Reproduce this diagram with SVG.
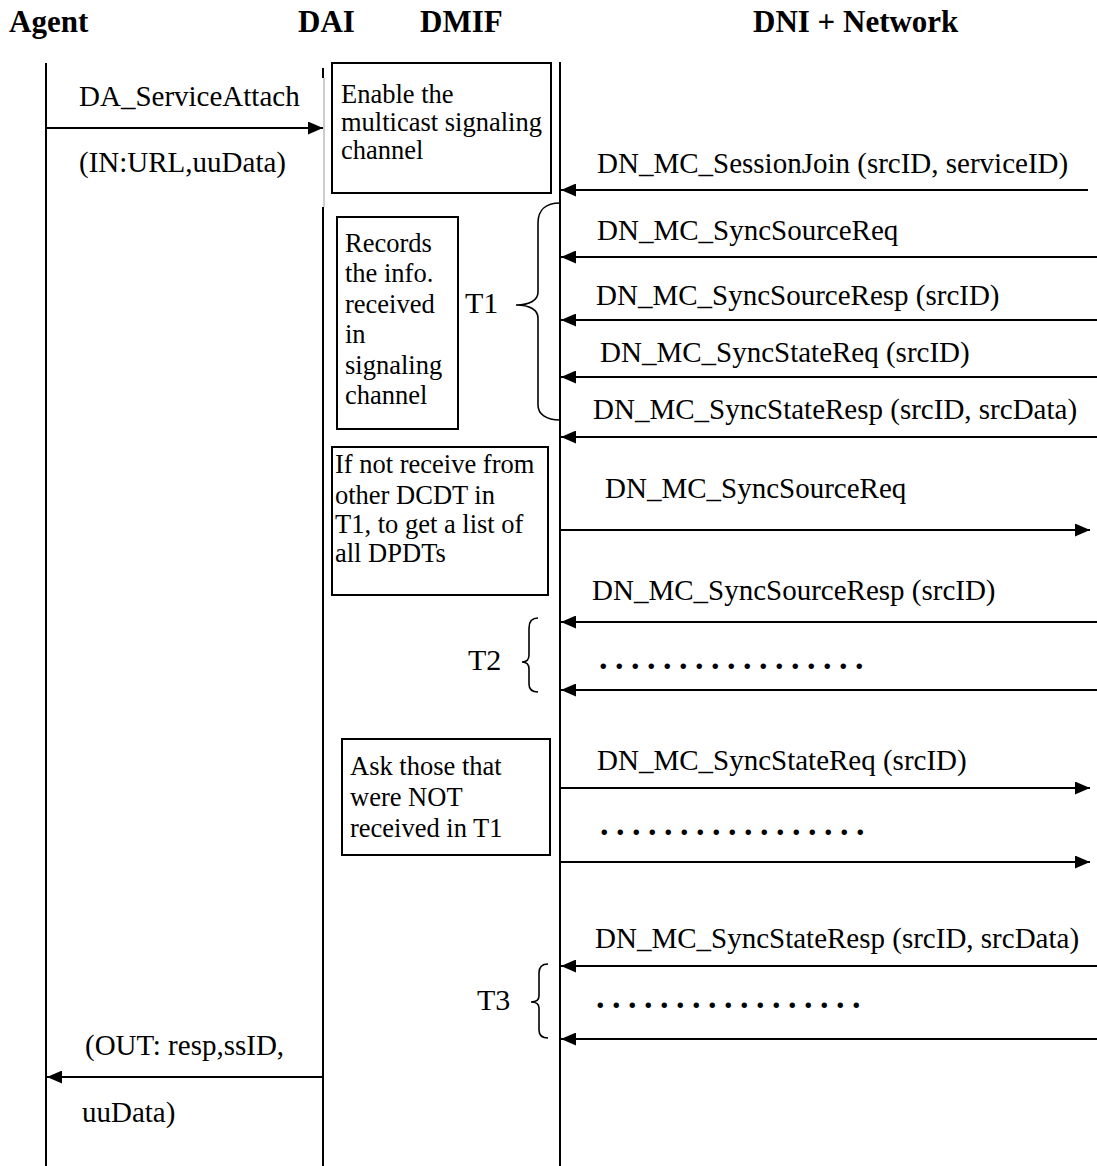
<svg xmlns="http://www.w3.org/2000/svg" width="1097" height="1166" viewBox="0 0 1097 1166">
  <style>
    text { font-family: "Liberation Serif", "Times New Roman", serif; fill: #000; }
    .title { font-size: 31px; font-weight: bold; }
    .lbl { font-size: 29px; }
    .box { font-size: 26.5px; }
    .tm { font-size: 30px; }
    .dots { font-size: 34px; font-weight: bold; letter-spacing: 7.5px; }
    .life { stroke: #000; stroke-width: 2; fill: none; }
    .note { stroke: #000; stroke-width: 2; fill: #fff; }
    .msg { stroke: #000; stroke-width: 2; fill: none; marker-end: url(#arrow); }
    .brace { stroke: #000; stroke-width: 1.6; fill: none; }
  </style>
  <defs>
    <marker id="arrow" markerUnits="userSpaceOnUse" markerWidth="16" markerHeight="13" refX="15" refY="6.5" orient="auto">
      <path d="M0,0 L15,6.5 L0,13 z" fill="#000"/>
    </marker>
  </defs>
  <rect width="1097" height="1166" fill="#fff"/>

  <!-- column headings and lifelines -->
  <g id="agent">
    <text class="title" x="9" y="32">Agent</text>
    <line class="life" x1="46" y1="63" x2="46" y2="1166"/>
  </g>
  <g id="dai">
    <text class="title" x="298" y="32">DAI</text>
    <line class="life" x1="323" y1="68" x2="323" y2="78"/>
    <line x1="324" y1="78" x2="324" y2="207" stroke="#9a9a9a" stroke-width="1"/>
    <line class="life" x1="323" y1="207" x2="323" y2="1166"/>
  </g>
  <g id="dmif">
    <text class="title" x="420" y="32">DMIF</text>
    <line class="life" x1="560" y1="62" x2="560" y2="1166"/>
  </g>
  <g id="dni">
    <text class="title" x="753" y="32">DNI + Network</text>
  </g>

  <!-- notes on the DMIF side -->
  <g id="note-enable">
    <rect class="note" x="332" y="63" width="219" height="130"/>
    <text class="box" x="341" y="103">Enable the</text>
    <text class="box" x="341" y="131">multicast signaling</text>
    <text class="box" x="341" y="159">channel</text>
  </g>
  <g id="note-records">
    <rect class="note" x="337" y="217" width="121" height="212"/>
    <text class="box" x="345" y="252">Records</text>
    <text class="box" x="345" y="282">the info.</text>
    <text class="box" x="345" y="313">received</text>
    <text class="box" x="345" y="343">in</text>
    <text class="box" x="345" y="374">signaling</text>
    <text class="box" x="345" y="404">channel</text>
  </g>
  <g id="note-list">
    <rect class="note" x="332" y="447" width="216" height="148"/>
    <text class="box" x="335" y="473">If not receive from</text>
    <text class="box" x="335" y="504">other DCDT in</text>
    <text class="box" x="335" y="533">T1, to get a list of</text>
    <text class="box" x="335" y="562">all DPDTs</text>
  </g>
  <g id="note-ask">
    <rect class="note" x="342" y="739" width="208" height="116"/>
    <text class="box" x="350" y="775">Ask those that</text>
    <text class="box" x="350" y="806">were NOT</text>
    <text class="box" x="350" y="837">received in T1</text>
  </g>

  <!-- timer intervals -->
  <g id="timer-t1">
    <text class="tm" x="465" y="313">T1</text>
    <path class="brace" d="M560,203 C546,203 538,210 538,223 L538,292 C538,300 530,305 516,305 C530,305 538,310 538,318 L538,405 C538,414 546,420 560,420"/>
  </g>
  <g id="timer-t2">
    <text class="tm" x="468" y="670">T2</text>
    <path class="brace" d="M538,618 C532,618 529,622 529,628 L529,655 C529,659 527,662 522,662 C527,662 529,665 529,669 L529,684 C529,689 532,692 538,692"/>
  </g>
  <g id="timer-t3">
    <text class="tm" x="477" y="1010">T3</text>
    <path class="brace" d="M548,964 C542,964 539,967 539,973 L539,996 C539,1000 536,1002 531,1002 C536,1002 539,1004 539,1008 L539,1030 C539,1035 542,1038 548,1038"/>
  </g>

  <!-- messages -->
  <g id="connectors">
    <line class="msg" x1="47" y1="128" x2="323" y2="128"/>
    <line class="msg" x1="1088" y1="190" x2="561" y2="190"/>
    <line class="msg" x1="1097" y1="257" x2="561" y2="257"/>
    <line class="msg" x1="1097" y1="320" x2="561" y2="320"/>
    <line class="msg" x1="1097" y1="377" x2="561" y2="377"/>
    <line class="msg" x1="1097" y1="437" x2="561" y2="437"/>
    <line class="msg" x1="560" y1="530" x2="1090" y2="530"/>
    <line class="msg" x1="1097" y1="622" x2="561" y2="622"/>
    <line class="msg" x1="1097" y1="690" x2="561" y2="690"/>
    <line class="msg" x1="560" y1="788" x2="1090" y2="788"/>
    <line class="msg" x1="560" y1="862" x2="1090" y2="862"/>
    <line class="msg" x1="1097" y1="966" x2="561" y2="966"/>
    <line class="msg" x1="1097" y1="1039" x2="561" y2="1039"/>
    <line class="msg" x1="323" y1="1077" x2="47" y2="1077"/>
  </g>

  <!-- message labels -->
  <g id="labels">
    <text class="lbl" x="79" y="106">DA_ServiceAttach</text>
    <text class="lbl" x="79" y="172">(IN:URL,uuData)</text>
    <text class="lbl" x="597" y="173">DN_MC_SessionJoin (srcID, serviceID)</text>
    <text class="lbl" x="597" y="240">DN_MC_SyncSourceReq</text>
    <text class="lbl" x="596" y="305">DN_MC_SyncSourceResp (srcID)</text>
    <text class="lbl" x="600" y="362">DN_MC_SyncStateReq (srcID)</text>
    <text class="lbl" x="593" y="419">DN_MC_SyncStateResp (srcID, srcData)</text>
    <text class="lbl" x="605" y="498">DN_MC_SyncSourceReq</text>
    <text class="lbl" x="592" y="600">DN_MC_SyncSourceResp (srcID)</text>
    <text class="dots" x="599" y="669">.................</text>
    <text class="lbl" x="597" y="770">DN_MC_SyncStateReq (srcID)</text>
    <text class="dots" x="600" y="835">.................</text>
    <text class="lbl" x="595" y="948">DN_MC_SyncStateResp (srcID, srcData)</text>
    <text class="dots" x="596" y="1008">.................</text>
    <text class="lbl" x="85" y="1055">(OUT: resp,ssID,</text>
    <text class="lbl" x="82" y="1122">uuData)</text>
  </g>
</svg>
